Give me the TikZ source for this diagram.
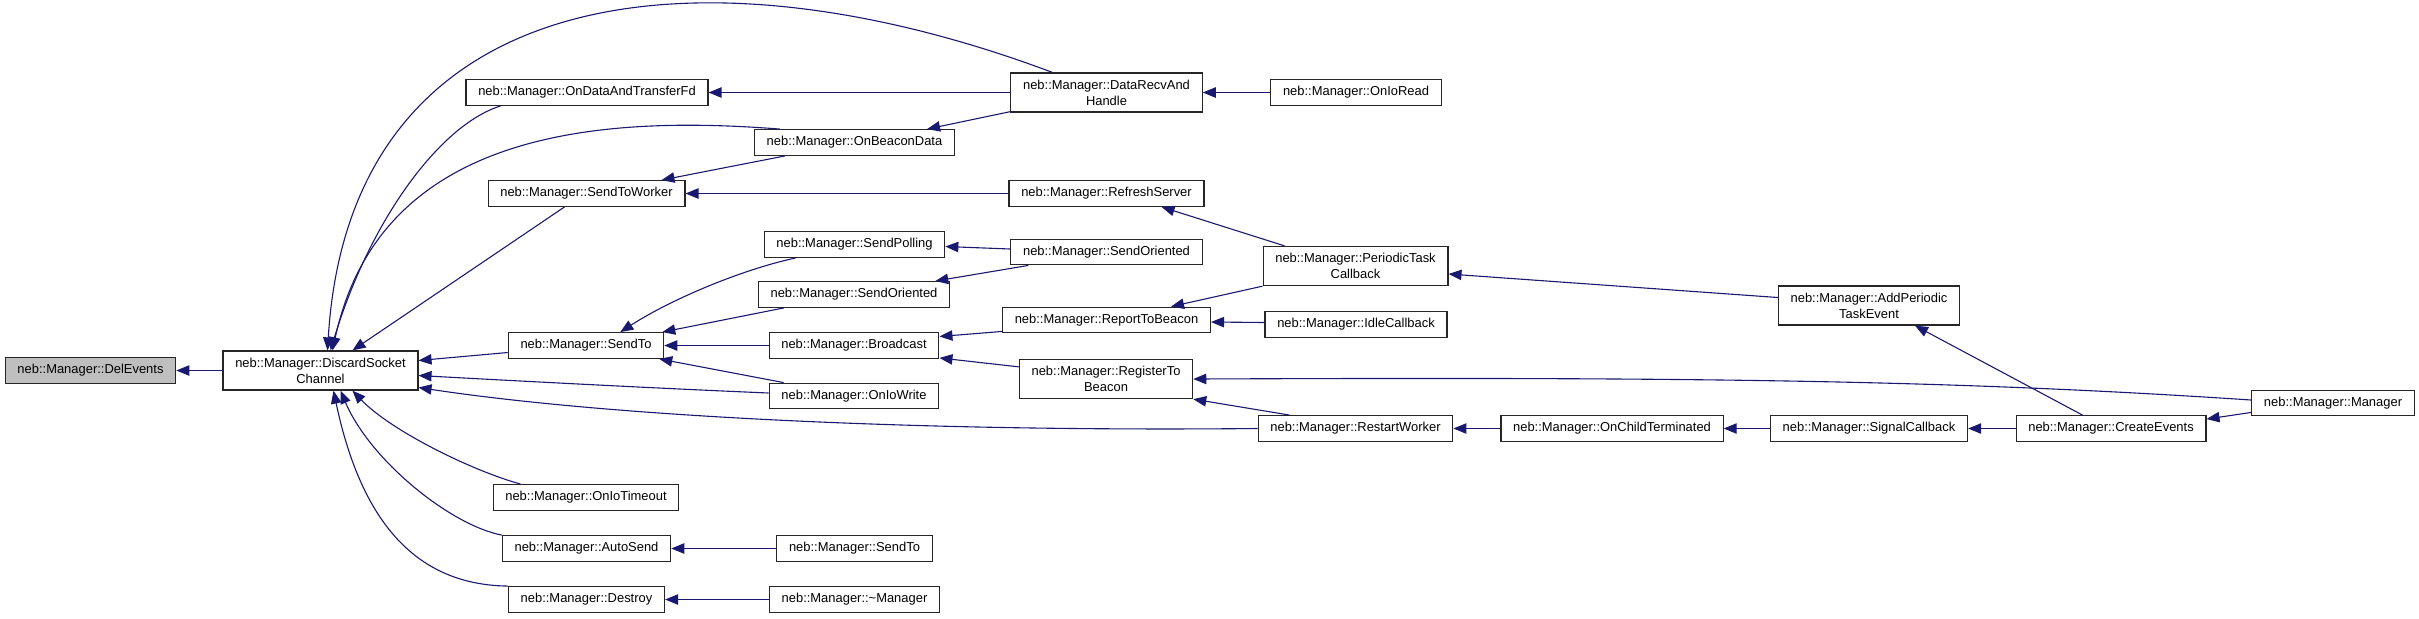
\documentclass[tikz,border=0pt]{standalone}
\usepackage{fontspec}
\newfontfamily\doxfont{Liberation Sans}
\usepackage{tikz}
\usetikzlibrary{arrows.meta,calc}

\definecolor{edgeblue}{HTML}{191970}
\definecolor{focusgray}{HTML}{BFBFBF}

\tikzset{
  fn/.style={draw=black!85, fill=white, line width=0.6pt, inner xsep=6.1pt, inner ysep=3.4pt,
    minimum height=12.5pt, align=center, font=\doxfont\fontsize{6.47}{8}\selectfont},
  focus/.style={fn, fill=focusgray},
  calls/.style={edgeblue, line width=0.55pt, -{Triangle[length=6.5pt,width=5.2pt]}}
}

\begin{document}
\begin{tikzpicture}[x=0.5pt,y=-0.5pt]
\useasboundingbox (0,0) rectangle (2419,618);

\node[focus] (del) at (90.5,370.5) {neb::Manager::DelEvents};
\node[fn] (dsc) at (320.5,370.5) {neb::Manager::DiscardSocket\\Channel};

\node[fn] (odt) at (587,92.5) {neb::Manager::OnDataAndTransferFd};
\node[fn] (stw) at (586.5,193.5) {neb::Manager::SendToWorker};
\node[fn] (sto) at (586,345.5) {neb::Manager::SendTo};
\node[fn] (oit) at (586,497.5) {neb::Manager::OnIoTimeout};
\node[fn] (asd) at (586.5,548.5) {neb::Manager::AutoSend};
\node[fn] (ds) at (586.5,599.5) {neb::Manager::Destroy};

\node[fn] (obd) at (854.5,142.5) {neb::Manager::OnBeaconData};
\node[fn] (spo) at (854.5,244.5) {neb::Manager::SendPolling};
\node[fn] (so1) at (854,294.5) {neb::Manager::SendOriented};
\node[fn] (bc) at (854,345.5) {neb::Manager::Broadcast};
\node[fn] (oiw) at (854,396) {neb::Manager::OnIoWrite};
\node[fn] (st2) at (854.5,548.5) {neb::Manager::SendTo};
\node[fn] (dm) at (854.5,599.5) {neb::Manager::\textasciitilde Manager};

\node[fn] (dr) at (1106.5,92.5) {neb::Manager::DataRecvAnd\\Handle};
\node[fn] (rs) at (1106.5,193.5) {neb::Manager::RefreshServer};
\node[fn] (so2) at (1106.5,252) {neb::Manager::SendOriented};
\node[fn] (rtb) at (1106.5,320) {neb::Manager::ReportToBeacon};
\node[fn] (rgb) at (1106,379) {neb::Manager::RegisterTo\\Beacon};

\node[fn] (oir) at (1356,92.5) {neb::Manager::OnIoRead};
\node[fn] (ptc) at (1355.5,266) {neb::Manager::PeriodicTask\\Callback};
\node[fn] (idc) at (1356,324.5) {neb::Manager::IdleCallback};
\node[fn] (rw) at (1355.5,428.5) {neb::Manager::RestartWorker};

\node[fn] (oct) at (1612,428.5) {neb::Manager::OnChildTerminated};
\node[fn] (ape) at (1869,305.5) {neb::Manager::AddPeriodic\\TaskEvent};
\node[fn] (sc) at (1869,428.5) {neb::Manager::SignalCallback};
\node[fn] (ce) at (2111,428.5) {neb::Manager::CreateEvents};
\node[fn] (mgr) at (2333,403) {neb::Manager::Manager};

% straight calls
\foreach \a/\b in {dsc/del, dr/odt, rs/stw, oir/dr, bc/sto, st2/asd, dm/ds, oct/rw, sc/oct, ce/sc}
    \draw[calls] (\a.west) -- (\b.east);

% into DiscardSocketChannel
\draw[calls] ($(dr.north west)+(42,0)$) .. controls (700,-60) and (350,-20) .. ($(dsc.north)+(7,0)$);
\draw[calls] ($(odt.south west)+(35,0)$) .. controls (440,125) and (370,220) .. ($(dsc.north)+(10,0)$);
\draw[calls] ($(obd.north west)+(26,0)$) .. controls (600,115) and (380,130) .. ($(dsc.north)+(12,0)$);
\draw[calls] ($(stw.south west)+(77,0)$) -- ($(dsc.north)+(32,0)$);
\draw[calls] ($(sto.west)+(0,7)$) -- ($(dsc.east)+(0,-10)$);
\draw[calls] ($(oiw.west)+(0,-3)$) .. controls (650,388) and (500,380) .. ($(dsc.east)+(0,5)$);
\draw[calls] (rw.west) .. controls (900,432) and (600,415) .. ($(dsc.east)+(0,17)$);
\draw[calls] ($(oit.north west)+(28,0)$) .. controls (470,470) and (390,430) .. ($(dsc.south)+(32,0)$);
\draw[calls] (asd.north west) .. controls (450,525) and (370,460) .. ($(dsc.south)+(20,0)$);
\draw[calls] (ds.north west) .. controls (430,585) and (365,540) .. ($(dsc.south)+(13,0)$);

\draw[calls] ($(dr.south west)+(0,-1)$) -- ($(obd.north east)+(-28,0)$);
\draw[calls] ($(obd.south west)+(31,0)$) -- ($(stw.north east)+(-24,0)$);
\draw[calls] ($(ptc.north west)+(22,0)$) -- ($(rs.south east)+(-43,0)$);
\draw[calls] ($(spo.south west)+(32,0)$) .. controls (740,270) and (670,300) .. ($(sto.north east)+(-44,0)$);
\draw[calls] ($(so2.west)+(0,-3)$) -- ($(spo.east)+(0,2)$);
\draw[calls] ($(so1.south west)+(26,0)$) -- ($(sto.north east)+(-2,0)$);
\draw[calls] ($(so2.south west)+(18,0)$) -- ($(so1.north east)+(-15,0)$);
\draw[calls] ($(oiw.north west)+(15,0)$) -- ($(sto.south east)+(-5,0)$);
\draw[calls] ($(rtb.south west)+(0,-2)$) -- ($(bc.east)+(0,-9)$);
\draw[calls] ($(rgb.north west)+(0,8)$) -- ($(bc.south east)+(0,-1)$);
\draw[calls] (ptc.south west) -- ($(rtb.north east)+(-40,0)$);
\draw[calls] ($(idc.west)+(0,-2)$) -- ($(rtb.east)+(0,2)$);
\draw[calls] ($(mgr.west)+(0,-3)$) .. controls (1950,380) and (1700,377) .. (rgb.east);
\draw[calls] ($(rw.north west)+(32,0)$) -- (rgb.south east);
\draw[calls] ($(ape.west)+(0,-8)$) -- ($(ptc.east)+(0,8)$);
\draw[calls] ($(mgr.south west)+(0,-4)$) -- ($(ce.north east)+(0,4)$);
\draw[calls] ($(ce.north west)+(67,0)$) -- ($(ape.south)+(46,0)$);

\end{tikzpicture}
\end{document}
